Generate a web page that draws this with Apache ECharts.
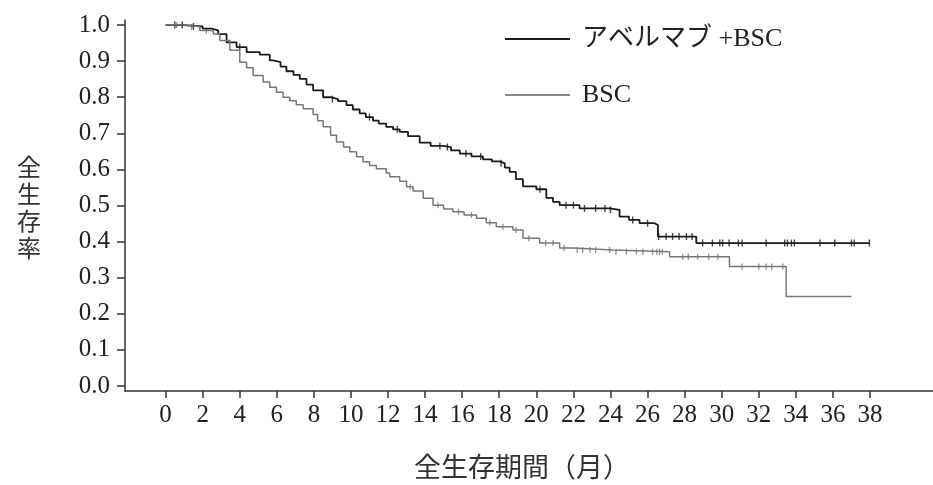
<!DOCTYPE html>
<html>
<head>
<meta charset="utf-8">
<script src="https://cdn.jsdelivr.net/npm/echarts@6/dist/echarts.min.js"></script>
<style>
  html, body { margin: 0; padding: 0; background: #ffffff; }
  #chart { width: 933px; height: 485px; }
</style>
</head>
<body>
<div id="chart"></div>
<script>
// Kaplan-Meier curves: [month, survival]
const avelumab = [
  [0, 1.0], [1.0, 0.996], [2.0, 0.99], [2.5, 0.985], [2.84, 0.975], [3.29, 0.952],
  [3.83, 0.939], [4.37, 0.925], [5.08, 0.918], [5.62, 0.902], [5.8, 0.897], [6.2, 0.885],
  [6.52, 0.872], [6.9, 0.862], [7.24, 0.851], [7.6, 0.835], [7.96, 0.819], [8.5, 0.8],
  [8.9, 0.795], [9.3, 0.789], [9.76, 0.778], [10.1, 0.766], [10.47, 0.755], [10.8, 0.745],
  [11.19, 0.735], [11.5, 0.727], [11.9, 0.718], [12.27, 0.711], [12.63, 0.704], [13.08, 0.692],
  [13.71, 0.674], [14.3, 0.665], [14.97, 0.662], [15.4, 0.653], [15.87, 0.644], [16.5, 0.636],
  [17.12, 0.628], [17.6, 0.622], [18.02, 0.617], [18.3, 0.605], [18.56, 0.593], [18.9, 0.573],
  [19.28, 0.553], [20.0, 0.545], [20.54, 0.521], [20.9, 0.51], [21.26, 0.501], [22.33, 0.492],
  [23.95, 0.488], [24.49, 0.469], [25.0, 0.46], [25.57, 0.451], [26.38, 0.446], [26.56, 0.414],
  [28.63, 0.396], [38.0, 0.396]
]
const bsc = [
  [0, 1.0], [1.0, 0.995], [1.85, 0.985], [2.57, 0.975], [2.93, 0.957], [3.47, 0.93],
  [4.0, 0.897], [4.37, 0.882], [4.72, 0.86], [5.26, 0.842], [5.62, 0.828], [5.98, 0.814],
  [6.34, 0.8], [6.7, 0.79], [7.05, 0.779], [7.42, 0.768], [7.96, 0.752], [8.2, 0.735],
  [8.5, 0.718], [8.9, 0.695], [9.22, 0.676], [9.6, 0.662], [9.94, 0.649], [10.3, 0.635],
  [10.65, 0.621], [11.0, 0.611], [11.37, 0.602], [11.9, 0.59], [12.09, 0.58], [12.63, 0.567],
  [13.0, 0.552], [13.35, 0.54], [13.9, 0.52], [14.43, 0.501], [15.0, 0.49], [15.5, 0.483],
  [16.1, 0.474], [16.77, 0.465], [17.3, 0.452], [17.84, 0.441], [18.74, 0.432], [19.28, 0.409],
  [20.18, 0.396], [21.26, 0.382], [21.97, 0.377], [24.13, 0.372], [27.19, 0.358], [30.42, 0.331],
  [33.48, 0.248], [37.0, 0.248]
]
// censoring times (months)
const avelumabCensor = [0.5, 0.9, 1.5, 4.0, 9.0, 11.0, 12.5, 14.8, 15.2, 16.2, 17.0, 18.1,
  20.2, 21.6, 22.0, 22.6, 23.2, 23.7, 24.0, 25.2, 26.0, 26.6, 27.0, 27.35, 27.7, 28.1, 28.4,
  28.97, 29.5, 29.9, 30.05, 30.4, 30.9, 31.1, 32.4, 33.4, 33.55, 33.76, 33.92, 35.3, 36.1,
  37.0, 37.15, 37.97]
const bscCensor = [0.6, 1.4, 2.2, 13.2, 14.7, 15.8, 16.5, 17.5, 18.2, 18.9, 19.6, 20.5, 20.9,
  21.5, 22.2, 22.5, 22.9, 23.2, 23.95, 24.3, 24.86, 25.4, 25.75, 26.27, 26.5, 26.65, 26.8,
  27.9, 28.2, 28.7, 29.3, 29.8, 31.1, 32.0, 32.4, 32.7, 33.3]
const xTicks = [0, 2, 4, 6, 8, 10, 12, 14, 16, 18, 20, 22, 24, 26, 28, 30, 32, 34, 36, 38]
const yTicks = [0, 0.1, 0.2, 0.3, 0.4, 0.5, 0.6, 0.7, 0.8, 0.9, 1.0]
const names = ['アベルマブ +BSC', 'BSC']

function stepAt (curve, t) {
  let v = curve[0][1]
  for (const p of curve) {
    if (p[0] <= t) v = p[1]
    else break
  }
  return v
}
function censorPoints (curve, times) {
  return times.map(t => [t, stepAt(curve, t)])
}

const serif = 'Liberation Serif, Noto Sans CJK JP'

const myChart = echarts.init(document.getElementById('chart'))
myChart.setOption({
  animation: false,
  backgroundColor: '#ffffff',
  grid: { left: 125, right: 0, top: 20, bottom: 93 },
  title: {
    text: '全\n生\n存\n率',
    left: 12,
    top: 148,
    textStyle: { fontFamily: 'Noto Sans CJK JP', fontSize: 24, fontWeight: 'normal', lineHeight: 27, color: '#333' }
  },
  legend: {
    data: [
      { name: names[0], icon: 'rect', itemStyle: { color: '#1a1a1a' } },
      { name: names[1], icon: 'rect', itemStyle: { color: '#8a8a8a' } }
    ],
    orient: 'vertical',
    left: 500,
    top: 21,
    itemWidth: 65,
    itemHeight: 2,
    itemGap: 30,
    textStyle: { fontFamily: serif, fontSize: 26, color: '#222', padding: [0, 0, 0, 7] }
  },
  xAxis: {
    type: 'value',
    min: -2.19,
    max: 41.4,
    name: '全生存期間（月）',
    nameLocation: 'middle',
    nameGap: 62,
    nameTextStyle: { fontFamily: 'Noto Sans CJK JP', fontSize: 27, color: '#333', padding: [0, 14, 0, 0] },
    splitLine: { show: false },
    axisLine: { onZero: false, lineStyle: { color: '#333', width: 1.5 } },
    axisTick: { show: true, length: 7, lineStyle: { color: '#333', width: 1.5 }, customValues: xTicks },
    axisLabel: { fontFamily: serif, fontSize: 25, color: '#222', margin: 12, customValues: xTicks }
  },
  yAxis: {
    type: 'value',
    min: -0.014,
    max: 1.014,
    splitLine: { show: false },
    axisLine: { show: true, onZero: false, lineStyle: { color: '#333', width: 1.5 } },
    axisTick: { show: true, length: 8, lineStyle: { color: '#333', width: 1.5 }, customValues: yTicks },
    axisLabel: {
      fontFamily: serif, fontSize: 25, color: '#222', margin: 15,
      customValues: yTicks,
      formatter: v => v.toFixed(1)
    }
  },
  series: [
    {
      name: names[0],
      type: 'line',
      step: 'end',
      showSymbol: false,
      symbol: 'none',
      color: '#1a1a1a',
      lineStyle: { color: '#1a1a1a', width: 1.8 },
      data: avelumab
    },
    {
      name: names[1],
      type: 'line',
      step: 'end',
      showSymbol: false,
      symbol: 'none',
      color: '#777777',
      lineStyle: { color: '#777777', width: 1.5 },
      data: bsc
    },
    {
      name: 'censor1',
      type: 'scatter',
      symbol: 'rect',
      symbolSize: [1.4, 7],
      itemStyle: { color: '#1a1a1a' },
      data: censorPoints(avelumab, avelumabCensor)
    },
    {
      name: 'censor2',
      type: 'scatter',
      symbol: 'rect',
      symbolSize: [1.3, 6],
      itemStyle: { color: '#777777' },
      data: censorPoints(bsc, bscCensor)
    }
  ]
})
</script>
</body>
</html>
